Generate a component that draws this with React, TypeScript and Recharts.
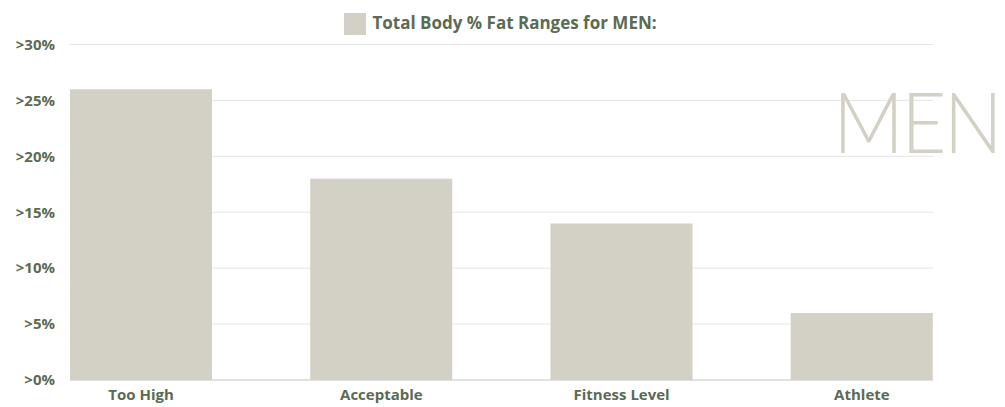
import { BarChart, Bar, XAxis, YAxis, CartesianGrid, Legend } from 'recharts';

const categories = ['Too High', 'Acceptable', 'Fitness Level', 'Athlete'];
const fatValues = [26, 18, 14, 6];
const yTicks = [0, 5, 10, 15, 20, 25, 30];
const seriesName = 'Total Body % Fat Ranges for MEN:';

const data = categories.map((name, i) => ({ name, fat: fatValues[i] }));

const green = '#5b6b53';
const beige = '#d3d0c5';
const font = '"Open Sans", Lato, sans-serif';

export default function App() {
  return (
    <div style={{ position: 'absolute', left: 0, top: 0, width: 1005, height: 407, background: '#fff', overflow: 'hidden' }}>
      <BarChart
        width={1005}
        height={407}
        data={data}
        margin={{ top: 20, right: 72, bottom: 0, left: 0 }}
        style={{ fontFamily: font }}
      >
        <CartesianGrid vertical={false} stroke="#e6e6e6" />
        <Legend
          verticalAlign="top"
          align="center"
          iconType="square"
          iconSize={22}
          wrapperStyle={{ fontFamily: font, fontWeight: 700, fontSize: 17, top: 11, paddingLeft: 39 }}
          formatter={(v) => <span style={{ color: green, marginLeft: 2 }}>{v}</span>}
        />
        <XAxis
          dataKey="name"
          padding={{ left: -49, right: -49 }}
          tickLine={false}
          tickSize={0}
          tickMargin={9}
          height={27}
          stroke="#cfcfcf"
          tick={{ fill: green, fontWeight: 700, fontSize: 15 }}
        />
        <YAxis
          domain={[0, 30]}
          ticks={yTicks}
          width={70}
          axisLine={false}
          tickLine={false}
          tickSize={0}
          tickMargin={15}
          tickFormatter={(v) => `>${v}%`}
          tick={{ fill: green, fontWeight: 700, fontSize: 15 }}
        />
        <Bar dataKey="fat" name={seriesName} fill={beige} barSize={142} isAnimationActive={false} />
      </BarChart>
      <div
        style={{
          position: 'absolute',
          left: 833,
          top: 66,
          fontFamily: 'Lato, sans-serif',
          fontWeight: 300,
          fontSize: 84,
          color: beige,
          letterSpacing: -3,
          lineHeight: '110px',
          whiteSpace: 'nowrap',
          transform: 'scaleX(0.93)',
          transformOrigin: 'left top',
          pointerEvents: 'none',
        }}
      >
        MEN
      </div>
    </div>
  );
}
